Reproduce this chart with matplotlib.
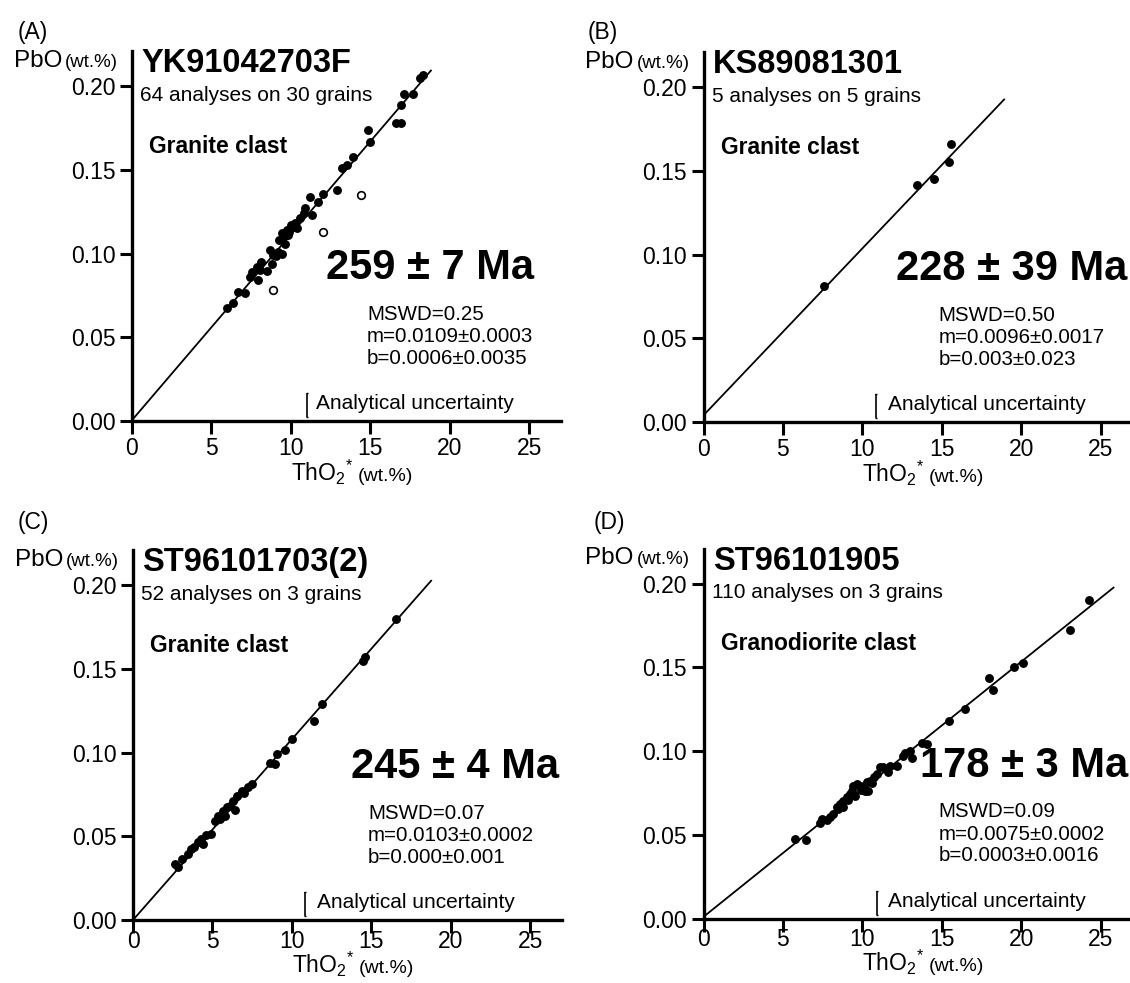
import matplotlib
matplotlib.use("Agg")
import matplotlib.pyplot as plt

plt.rcParams['font.family'] = ['Liberation Sans', 'DejaVu Sans']
plt.rcParams['mathtext.fontset'] = 'custom'
plt.rcParams['mathtext.rm'] = 'Liberation Sans'
plt.rcParams['mathtext.it'] = 'Liberation Sans:italic'
plt.rcParams['mathtext.bf'] = 'Liberation Sans:bold'

# ---------------- data ----------------
panel_letters = ['(A)', '(B)', '(C)', '(D)']
sample_names = ['YK91042703F', 'KS89081301', 'ST96101703(2)', 'ST96101905']
analyses_text = ['64 analyses on 30 grains', '5 analyses on 5 grains',
                 '52 analyses on 3 grains', '110 analyses on 3 grains']
rock_types = ['Granite clast', 'Granite clast', 'Granite clast', 'Granodiorite clast']
ages = ['259 ± 7 Ma', '228 ± 39 Ma', '245 ± 4 Ma', '178 ± 3 Ma']
mswd = ['MSWD=0.25', 'MSWD=0.50', 'MSWD=0.07', 'MSWD=0.09']
slopes_txt = ['m=0.0109±0.0003', 'm=0.0096±0.0017', 'm=0.0103±0.0002', 'm=0.0075±0.0002']
intercepts_txt = ['b=0.0006±0.0035', 'b=0.003±0.023', 'b=0.000±0.001', 'b=0.0003±0.0016']

# isochron lines as drawn (intercept, slope, x end)
line_b = [0.0005, 0.004, 0.0, 0.001]
line_m = [0.0111, 0.00997, 0.0108, 0.00762]
line_xend = [18.85, 18.96, 18.8, 25.85]

# analytical uncertainty bar (ThO2*, PbO center, half-length)
unc_x = [11.0, 10.85, 10.85, 10.9]
unc_y = 0.0095
unc_half = 0.0072

a_x = [18.3, 18.1, 17.1, 17.7, 16.9, 16.6, 16.9, 14.85, 15.0, 13.9, 13.5, 13.2, 12.9, 12.0,
       11.7, 11.2, 10.9, 10.8, 11.3, 10.6, 10.25, 10.0, 9.73, 9.41, 9.5, 9.27, 9.83, 10.1,
       8.68, 9.2, 8.89, 9.41, 8.15, 7.84, 7.53, 8.05, 8.5, 7.42, 7.94, 6.69, 7.11, 6.37,
       5.96, 8.84, 9.6, 9.9, 10.4, 9.05]
a_y = [0.2066, 0.2046, 0.1956, 0.1956, 0.1887, 0.178, 0.178, 0.174, 0.1668, 0.1578, 0.1528,
       0.1509, 0.138, 0.1355, 0.1309, 0.134, 0.1270, 0.124, 0.123, 0.121, 0.118, 0.117, 0.114,
       0.112, 0.110, 0.108, 0.111, 0.116, 0.1021, 0.1011, 0.0991, 0.0997, 0.0951, 0.0921,
       0.0891, 0.0901, 0.0897, 0.0861, 0.0842, 0.0772, 0.0762, 0.0706, 0.0673, 0.0936,
       0.106, 0.113, 0.115, 0.0985]
a_open_x = [8.85, 12.05, 14.4]
a_open_y = [0.0782, 0.1127, 0.1349]

b_x = [7.56, 13.46, 14.53, 15.44, 15.55]
b_y = [0.0812, 0.1415, 0.1452, 0.1553, 0.1659]

c_x = [16.56, 14.5, 14.6, 11.9, 11.4, 10.0, 9.57, 9.05, 8.63, 8.94, 7.47, 7.26, 6.85, 6.53,
       6.32, 6.11, 5.9, 5.69, 5.37, 5.16, 5.48, 4.91, 4.6, 4.28, 4.07, 4.39, 3.86, 3.65, 3.48,
       3.06, 2.64, 2.85, 6.4, 7.0, 5.8]
c_y = [0.180, 0.1545, 0.1570, 0.1288, 0.1188, 0.108, 0.1014, 0.099, 0.094, 0.093, 0.0812,
       0.0792, 0.0772, 0.0743, 0.0713, 0.0683, 0.0673, 0.0654, 0.0624, 0.0594, 0.0604, 0.0515,
       0.0505, 0.0485, 0.0465, 0.0456, 0.0436, 0.0426, 0.0396, 0.0367, 0.0337, 0.0317, 0.066,
       0.076, 0.062]

d_x = [24.26, 23.07, 20.1, 19.55, 17.94, 18.25, 16.47, 15.42, 14.06, 13.74, 13.0, 12.68,
       12.58, 13.1, 12.17, 11.75, 11.64, 11.32, 11.11, 10.9, 10.7, 10.49, 10.28, 10.17, 10.38,
       10.07, 9.86, 9.65, 9.43, 9.33, 9.54, 9.22, 9.01, 8.8, 8.6, 8.8, 8.49, 8.38, 8.17, 7.97,
       7.76, 7.44, 7.34, 6.46, 5.76, 9.9, 10.6, 9.1]
d_y = [0.190, 0.1726, 0.1529, 0.1503, 0.1435, 0.1366, 0.1253, 0.1181, 0.1042, 0.1048, 0.0998,
       0.0989, 0.0969, 0.0960, 0.0912, 0.0912, 0.0873, 0.0902, 0.0902, 0.0863, 0.0843, 0.0823,
       0.0813, 0.0764, 0.0764, 0.0793, 0.0793, 0.0803, 0.0793, 0.0764, 0.0734, 0.0743, 0.0724,
       0.0704, 0.0685, 0.0665, 0.0655, 0.0665, 0.0626, 0.0606, 0.0586, 0.0596, 0.0571, 0.0467,
       0.0476, 0.077, 0.081, 0.071]

solid_x = [a_x, b_x, c_x, d_x]
solid_y = [a_y, b_y, c_y, d_y]
open_x = [a_open_x, [], [], []]
open_y = [a_open_y, [], [], []]

x_ticks = [0, 5, 10, 15, 20, 25]
y_ticks = [0.00, 0.05, 0.10, 0.15, 0.20]
y_ticklabels = ['0.00', '0.05', '0.10', '0.15', '0.20']

# ---------------- layout ----------------
W, H = 1130, 983
fig = plt.figure(figsize=(W / 100, H / 100), dpi=100)

ax_px = [(132, 421), (703.5, 422), (133, 920), (703.5, 918.5)]  # (left, bottom) in px
ax_w, ax_h = 429, 370
letter_px = [(18, 32), (588, 32), (18, 522), (594, 522)]
age_left = [0.453, 0.448, 0.508, 0.505]
xlab_y = [-0.162, -0.162, -0.142, -0.142]
xtick_pad = [2.5, 2.5, -2.0, -2.0]

for i in range(4):
    lx, by = ax_px[i]
    ax = fig.add_axes([lx / W, (H - by) / H, ax_w / W, ax_h / H])
    ax.set_xlim(0, 27)
    ax.set_ylim(0, 0.221)
    for s in ['top', 'right']:
        ax.spines[s].set_visible(False)
    for s in ['left', 'bottom']:
        ax.spines[s].set_linewidth(2.4)
    ax.set_xticks(x_ticks)
    ax.set_xticklabels([str(t) for t in x_ticks])
    ax.set_yticks(y_ticks)
    ax.set_yticklabels(y_ticklabels)
    ax.tick_params(axis='both', direction='out', length=9, width=2.2, labelsize=16.5)
    ax.tick_params(axis='x', pad=xtick_pad[i])
    ax.tick_params(axis='y', pad=3)
    ax.patch.set_alpha(0)

    # isochron line
    xe = line_xend[i]
    ax.plot([0, xe], [line_b[i], line_b[i] + line_m[i] * xe], color='black', lw=1.3,
            solid_capstyle='butt', zorder=2)
    # data
    ax.plot(solid_x[i], solid_y[i], 'o', color='black', ms=6.4, mew=0, zorder=3)
    if open_x[i]:
        ax.plot(open_x[i], open_y[i], 'o', mfc='white', mec='black', ms=5.5, mew=1.2, zorder=3)

    # analytical uncertainty
    ax.errorbar([unc_x[i]], [unc_y], yerr=[unc_half], fmt='none', ecolor='black',
                elinewidth=1.2, capsize=1.0, capthick=1.0)
    ax.text(0.43, 0.046, 'Analytical uncertainty', transform=ax.transAxes,
            fontsize=15, va='center', ha='left')

    # texts
    ax.text(0.022, 0.965, sample_names[i], transform=ax.transAxes, fontsize=23.5,
            fontweight='bold', va='center', ha='left')
    ax.text(0.019, 0.881, analyses_text[i], transform=ax.transAxes, fontsize=15,
            va='center', ha='left')
    ax.text(0.04, 0.743, rock_types[i], transform=ax.transAxes, fontsize=16.5,
            fontweight='bold', va='center', ha='left')
    ax.text(age_left[i], 0.413, ages[i], transform=ax.transAxes, fontsize=30,
            fontweight='bold', va='center', ha='left')
    for txt, yy in zip([mswd[i], slopes_txt[i], intercepts_txt[i]], [0.289, 0.228, 0.170]):
        ax.text(0.548, yy, txt, transform=ax.transAxes, fontsize=14.8,
                va='center', ha='left')

    # axis labels
    ax.text(-0.163, 0.957, 'PbO', transform=ax.transAxes, fontsize=17.5,
            va='baseline', ha='right')
    ax.text(-0.156, 0.957, '(wt.%)', transform=ax.transAxes, fontsize=13.5,
            va='baseline', ha='left')
    ax.text(0.516, xlab_y[i], r'ThO$_\mathregular{2}$$^\mathregular{*}$', transform=ax.transAxes,
            fontsize=16.5, va='baseline', ha='right')
    ax.text(0.526, xlab_y[i], '(wt.%)', transform=ax.transAxes, fontsize=14,
            va='baseline', ha='left')

    # panel letter
    px, py = letter_px[i]
    fig.text(px / W, 1 - py / H, panel_letters[i], fontsize=16.5, va='center', ha='left')

fig.savefig('out.png', dpi=100)
